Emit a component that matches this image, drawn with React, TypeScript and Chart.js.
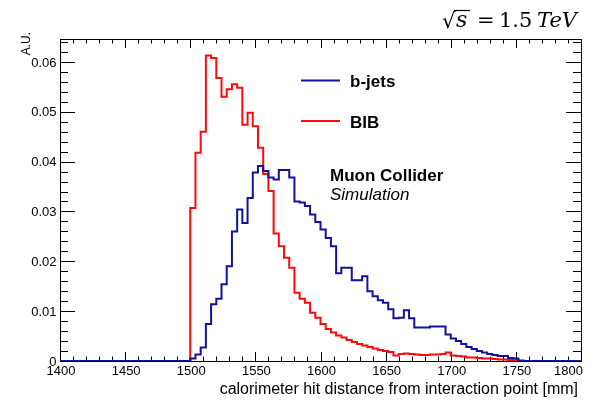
import React, { useEffect, useRef } from 'react';
import { Chart, registerables } from 'chart.js';

Chart.register(...registerables);

// ---------------- data ----------------
const BIN_START = 1500; // first filled bin low edge [mm]
const BIN_WIDTH = 4; // [mm]
const X_MIN = 1400;
const X_MAX = 1800;
const Y_MAX = 0.0646;

// b-jets, bins from 1500 mm, 4 mm wide
const bjetsValues = [
  0.0005, 0.0013, 0.0027, 0.0074, 0.0114, 0.0125, 0.0154, 0.019, 0.026, 0.0304,
  0.0277, 0.0327, 0.0378, 0.0391, 0.0381, 0.0368, 0.0364, 0.0383, 0.0383, 0.0368,
  0.032, 0.0318, 0.0311, 0.0294, 0.0279, 0.0264, 0.0247, 0.023, 0.0176, 0.0187,
  0.0187, 0.0162, 0.0162, 0.017, 0.014, 0.013, 0.0122, 0.0117, 0.0104, 0.0086,
  0.0087, 0.0102, 0.0086, 0.0067, 0.0067, 0.0067, 0.0069, 0.0069, 0.0069, 0.0053,
  0.0045, 0.004, 0.0034, 0.0028, 0.0024, 0.002, 0.0017, 0.0014, 0.0012, 0.001,
  0.001, 0.0006, 0.0005, 0.0001,
];

// BIB, bins from 1500 mm, 4 mm wide
const bibValues = [
  0.0307, 0.0418, 0.046, 0.0613, 0.0608, 0.0568, 0.053, 0.0545, 0.0555, 0.0548,
  0.0474, 0.0498, 0.0471, 0.0428, 0.0375, 0.0341, 0.0256, 0.023, 0.0207, 0.0187,
  0.0137, 0.0125, 0.0117, 0.0097, 0.0087, 0.0074, 0.0064, 0.0057, 0.0051, 0.0047,
  0.0042, 0.0038, 0.0034, 0.0031, 0.0028, 0.0025, 0.0022, 0.002, 0.0018, 0.0011,
  0.0014, 0.0015, 0.0014, 0.0013, 0.0012, 0.0012, 0.0013, 0.0013, 0.0014, 0.0017,
  0.0011, 0.001, 0.0009, 0.0007, 0.0007, 0.0006, 0.0005, 0.0005, 0.0004, 0.0003,
  0.0003, 0.0002, 0.0001,
];

const xTickValues = [1400, 1450, 1500, 1550, 1600, 1650, 1700, 1750, 1800];
const xTickLabels = ['1400', '1450', '1500', '1550', '1600', '1650', '1700', '1750', '1800'];
const yTickValues = [0, 0.01, 0.02, 0.03, 0.04, 0.05, 0.06];
const yTickLabels = ['0', '0.01', '0.02', '0.03', '0.04', '0.05', '0.06'];

const seriesLabels = ['b-jets', 'BIB'];
const xTitle = 'calorimeter hit distance from interaction point [mm]';
const yTitle = 'A.U.';
const expLabel = 'Muon Collider';
const expSub = 'Simulation';

const BLUE = '#12129c';
const RED = '#ff0a0a';
const SANS = '"Liberation Sans", Arial, Helvetica, sans-serif';
const SERIF = '"DejaVu Serif", "Liberation Serif", serif';

function toSteps(values: number[]) {
  const pts: { x: number; y: number }[] = [{ x: X_MIN, y: 0 }];
  values.forEach((v, i) => pts.push({ x: BIN_START + i * BIN_WIDTH, y: v }));
  pts.push({ x: BIN_START + values.length * BIN_WIDTH, y: 0 });
  pts.push({ x: X_MAX, y: 0 });
  return pts;
}

const rootFrame = {
  id: 'rootFrame',
  beforeDatasetsDraw(chart: any) {
    const { ctx, chartArea: a, scales } = chart;
    const xs = scales.x;
    const ys = scales.y;
    ctx.save();
    ctx.strokeStyle = '#000';
    ctx.lineWidth = 1;
    ctx.strokeRect(a.left + 0.5, a.top + 0.5, a.right - a.left, a.bottom - a.top);
    ctx.beginPath();
    // x ticks (bottom and top), minor every 10, major every 50
    for (let v = X_MIN; v <= X_MAX; v += 10) {
      const px = Math.round(xs.getPixelForValue(v)) + 0.5;
      const len = v % 50 === 0 ? 9 : 4.5;
      ctx.moveTo(px, a.bottom);
      ctx.lineTo(px, a.bottom - len);
      ctx.moveTo(px, a.top);
      ctx.lineTo(px, a.top + len);
    }
    // y ticks (left and right), minor every 0.002, major every 0.01
    for (let k = 0; k * 0.002 <= Y_MAX; k++) {
      const py = Math.round(ys.getPixelForValue(k * 0.002)) + 0.5;
      const len = k % 5 === 0 ? 15 : 8;
      ctx.moveTo(a.left, py);
      ctx.lineTo(a.left + len, py);
      ctx.moveTo(a.right, py);
      ctx.lineTo(a.right - len, py);
    }
    ctx.stroke();
    ctx.restore();
  },
  afterDraw(chart: any) {
    const { ctx, chartArea: a, scales } = chart;
    const xs = scales.x;
    const ys = scales.y;
    ctx.save();
    ctx.fillStyle = '#000';
    // tick labels
    ctx.font = `13px ${SANS}`;
    ctx.textBaseline = 'middle';
    xTickValues.forEach((v, i) => {
      const px = xs.getPixelForValue(v);
      if (i === xTickValues.length - 1) {
        ctx.textAlign = 'right';
        ctx.fillText(xTickLabels[i], px + 2, a.bottom + 10.5);
      } else {
        ctx.textAlign = 'center';
        ctx.fillText(xTickLabels[i], px + 1, a.bottom + 10.5);
      }
    });
    ctx.textAlign = 'right';
    yTickValues.forEach((v, i) => {
      const py = ys.getPixelForValue(v);
      ctx.fillText(yTickLabels[i], a.left - 3.5, py + 1);
    });
    // axis titles
    ctx.font = `16px ${SANS}`;
    ctx.textAlign = 'right';
    ctx.textBaseline = 'alphabetic';
    ctx.fillText(xTitle, a.right - 3, a.bottom + 33);
    ctx.save();
    ctx.translate(30, 32);
    ctx.rotate(-Math.PI / 2);
    ctx.font = `12px ${SANS}`;
    ctx.textAlign = 'right';
    ctx.fillText(yTitle, 0, 0);
    ctx.restore();

    // legend
    const legendColors = [BLUE, RED];
    const legendY = [80.5, 121];
    ctx.lineWidth = 2;
    legendColors.forEach((c, i) => {
      ctx.strokeStyle = c;
      ctx.beginPath();
      ctx.moveTo(301, legendY[i]);
      ctx.lineTo(340, legendY[i]);
      ctx.stroke();
    });
    ctx.font = `bold 17px ${SANS}`;
    ctx.textAlign = 'left';
    ctx.fillText(seriesLabels[0], 350, 86.5);
    ctx.fillText(seriesLabels[1], 350, 127.5);

    // experiment label
    ctx.fillText(expLabel, 330, 180.5);
    ctx.font = `italic 17px ${SANS}`;
    ctx.fillText(expSub, 330, 200);

    // energy label: sqrt(s) = 1.5 TeV
    const base = 27;
    ctx.font = `21px ${SERIF}`;
    ctx.fillText('\u221A', 442, base + 1);
    ctx.lineWidth = 1.2;
    ctx.strokeStyle = '#000';
    ctx.beginPath();
    ctx.moveTo(454, 10.5);
    ctx.lineTo(470, 10.5);
    ctx.stroke();
    ctx.font = `italic 22px ${SERIF}`;
    ctx.fillText('s', 456, base);
    ctx.font = `21px ${SERIF}`;
    ctx.fillText('=', 477, base);
    ctx.fillText('1.5', 499, base);
    ctx.font = `italic 21px ${SERIF}`;
    ctx.fillText('TeV', 537, base);
    ctx.restore();
  },
};

export default function App() {
  const canvasRef = useRef<HTMLCanvasElement | null>(null);

  useEffect(() => {
    const canvas = canvasRef.current;
    if (!canvas) return;
    const chart = new Chart(canvas, {
      type: 'line',
      data: {
        datasets: [
          {
            label: seriesLabels[0],
            data: toSteps(bjetsValues),
            borderColor: BLUE,
            borderWidth: 2,
            stepped: 'before',
            pointRadius: 0,
            fill: false,
            order: 0,
          },
          {
            label: seriesLabels[1],
            data: toSteps(bibValues),
            borderColor: RED,
            borderWidth: 2,
            stepped: 'before',
            pointRadius: 0,
            fill: false,
            order: 1,
          },
        ],
      },
      options: {
        animation: false,
        responsive: false,
        maintainAspectRatio: false,
        devicePixelRatio: 1,
        layout: { padding: { left: 60, top: 39, right: 25, bottom: 39 } },
        plugins: { legend: { display: false }, tooltip: { enabled: false } },
        events: [],
        scales: {
          x: { type: 'linear', min: X_MIN, max: X_MAX, display: false },
          y: { type: 'linear', min: 0, max: Y_MAX, display: false },
        },
      },
      plugins: [rootFrame],
    });
    return () => chart.destroy();
  }, []);

  return (
    <div style={{ position: 'absolute', left: 0, top: 0, width: 606, height: 400, background: '#fff' }}>
      <canvas ref={canvasRef} width={606} height={400} style={{ width: 606, height: 400 }} />
    </div>
  );
}
